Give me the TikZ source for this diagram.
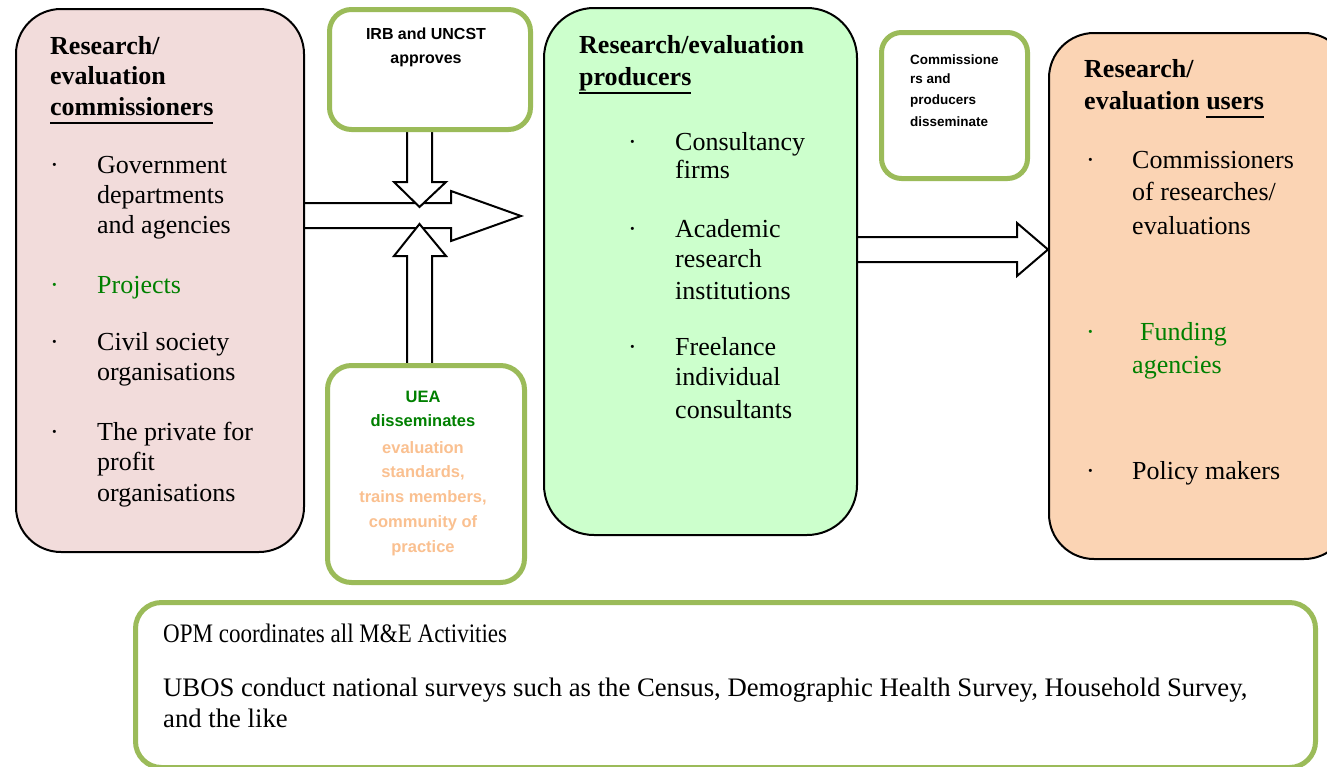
\documentclass[tikz,border=0pt]{standalone}
\usepackage{fontspec}
\setmainfont{Liberation Serif}
\newfontfamily\arialf{Liberation Sans}
\definecolor{pinkfill}{HTML}{F2DCDB}
\definecolor{greenfill}{HTML}{CCFFCC}
\definecolor{peachfill}{HTML}{FBD4B4}
\definecolor{bordergreen}{HTML}{9BBB59}
\definecolor{txtgreen}{HTML}{008000}
\definecolor{txtorange}{HTML}{FAC090}
\newcommand\ulx[1]{\setbox0\hbox{#1}\rlap{\rule[-9pt]{\wd0}{2pt}}\box0}
\pgfdeclarelayer{bg}
\pgfsetlayers{bg,main}
\tikzset{
  bigbox/.style={draw=black, line width=2pt, rounded corners=45pt, anchor=north west, inner sep=0pt},
  greenbox/.style={draw=bordergreen, line width=5pt, fill=white, anchor=north west, inner sep=0pt},
  txt/.style={anchor=base west, inner sep=0pt, font=\fontsize{26}{30}\selectfont},
  gtxt/.style={txt, text=txtgreen},
  hdr/.style={anchor=base west, inner sep=0pt, font=\bfseries\fontsize{26}{30}\selectfont},
  bul/.style={anchor=base west, inner sep=0pt, font=\fontsize{26}{30}\selectfont},
  smallc/.style={anchor=base, inner sep=0pt, font=\arialf\bfseries\fontsize{16}{19}\selectfont},
  ueatxt/.style={anchor=base, inner sep=0pt, font=\arialf\bfseries\fontsize{16.5}{20}\selectfont},
  comtxt/.style={anchor=base west, inner sep=0pt, font=\arialf\bfseries\fontsize{13.5}{16}\selectfont},
  bottxt/.style={anchor=base west, inner sep=0pt, font=\fontsize{26.7}{30}\selectfont},
  blockarrow/.style={draw=black, line width=2pt, fill=white, line join=miter}
}
\begin{document}
\begin{tikzpicture}[x=1pt,y=-1pt]
\useasboundingbox (0,0) rectangle (1327,766);
\clip (0,0) rectangle (1327,766);

% main boxes
\node[bigbox, fill=pinkfill, minimum width=288pt, minimum height=543pt] (comm) at (15,8) {};
\node[bigbox, fill=greenfill, rounded corners=50pt, minimum width=313pt, minimum height=527pt] (prod) at (543,7) {};
\node[bigbox, fill=peachfill, minimum width=300pt, minimum height=526pt] (users) at (1048,32) {};

% small green boxes
\node[greenbox, rounded corners=22pt, minimum width=201pt, minimum height=120pt] (irb) at (327,7) {};
\node[greenbox, rounded corners=24pt, minimum width=197pt, minimum height=217pt] (uea) at (325,363) {};
\node[greenbox, rounded corners=20pt, minimum width=146pt, minimum height=146pt] (cpd) at (879,30) {};
\node[greenbox, rounded corners=26pt, minimum width=1180pt, minimum height=165pt] (opm) at (133,600) {};

% block arrows (behind the boxes)
\begin{pgfonlayer}{bg}
\fill[white] (0,0) rectangle (1327,766);
\draw[blockarrow] (comm.east |- 0,203) -- (451,203) -- (451,191) -- (521,216) -- (451,241) -- (451,228) -- (comm.east |- 0,228);
\draw[blockarrow] (407,120) -- (407,182) -- (394,182) -- (419.5,207) -- (446,182) -- (432,182) -- (432,120);
\draw[blockarrow] (407,370) -- (407,256) -- (394,256) -- (419.5,224) -- (446,256) -- (432,256) -- (432,370);
\draw[blockarrow] (prod.east |- 0,237) -- (1017,237) -- (1017,223) -- (users.west |- 0,249.5) -- (1017,276) -- (1017,262) -- (prod.east |- 0,262);
\end{pgfonlayer}

% left box text
\node[hdr] (c1) at (50,54) {Research/};
\node[hdr] (c2) at (50,84) {evaluation};
\node[hdr] (c3) at (50,115) {\ulx{commissioners}};
\node[bul] (cb1) at (50,173) {·};
\node[txt] (ct1) at (97,173) {Government};
\node[txt] (ct2) at (97,203) {departments};
\node[txt] (ct3) at (97,233) {and agencies};
\node[bul, text=txtgreen] (cb2) at (50,293) {·};
\node[gtxt] (ct4) at (97,293) {Projects};
\node[bul] (cb3) at (50,350) {·};
\node[txt] (ct5) at (97,350) {Civil society};
\node[txt] (ct6) at (97,380) {organisations};
\node[bul] (cb4) at (50,440) {·};
\node[txt] (ct7) at (97,440) {The private for};
\node[txt] (ct8) at (97,470) {profit};
\node[txt] (ct9) at (97,501) {organisations};

% middle box text
\node[hdr] (p1) at (579,53) {Research/evaluation};
\node[hdr] (p2) at (579,85) {\ulx{producers}};
\node[bul] (pb1) at (628,150) {·};
\node[txt] (pt1) at (675,150) {Consultancy};
\node[txt] (pt2) at (675,178) {firms};
\node[bul] (pb2) at (628,237) {·};
\node[txt] (pt3) at (675,237) {Academic};
\node[txt] (pt4) at (675,267) {research};
\node[txt] (pt5) at (675,299) {institutions};
\node[bul] (pb3) at (628,355) {·};
\node[txt] (pt6) at (675,355) {Freelance};
\node[txt] (pt7) at (675,385) {individual};
\node[txt] (pt8) at (675,418) {consultants};

% right box text
\node[hdr] (u1) at (1084,77) {Research/};
\node[hdr] (u2) at (1084,109) {evaluation \ulx{users}};
\node[bul] (ub1) at (1086,168) {·};
\node[txt] (ut1) at (1132,168) {Commissioners};
\node[txt] (ut2) at (1132,200) {of researches/};
\node[txt] (ut3) at (1132,234) {evaluations};
\node[bul, text=txtgreen] (ub2) at (1086,340) {·};
\node[gtxt] (ut4) at (1140,340) {Funding};
\node[gtxt] (ut5) at (1132,373) {agencies};
\node[bul] (ub3) at (1086,479) {·};
\node[txt] (ut6) at (1132,479) {Policy makers};

% IRB text
\node[smallc] (i1) at (426,39) {IRB and UNCST};
\node[smallc] (i2) at (426,63) {approves};

% UEA text
\node[ueatxt, text=txtgreen] (e1) at (423,402) {UEA};
\node[ueatxt, text=txtgreen] (e2) at (423,426) {disseminates};
\node[ueatxt, text=txtorange] (e3) at (423,453) {evaluation};
\node[ueatxt, text=txtorange] (e4) at (423,477) {standards,};
\node[ueatxt, text=txtorange] (e5) at (423,502) {trains members,};
\node[ueatxt, text=txtorange] (e6) at (423,527) {community of};
\node[ueatxt, text=txtorange] (e7) at (423,552) {practice};

% commissioners and producers text
\node[comtxt] (d1) at (910,64) {Commissione};
\node[comtxt] (d2) at (910,83) {rs and};
\node[comtxt] (d3) at (910,104) {producers};
\node[comtxt] (d4) at (910,126) {disseminate};

% bottom text
\node[bottxt] (o1) at (163,642) {\scalebox{0.862}[1]{OPM coordinates all M\&E Activities}};
\node[bottxt] (o2) at (163,696) {UBOS conduct national surveys such as the Census, Demographic Health Survey, Household Survey,};
\node[bottxt] (o3) at (163,727) {and the like};
\end{tikzpicture}
\end{document}
